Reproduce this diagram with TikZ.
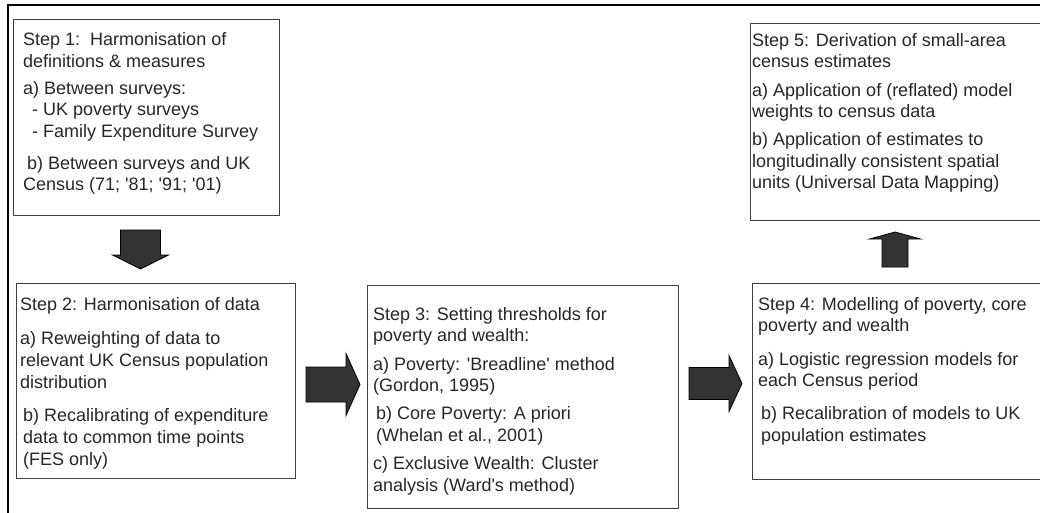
\documentclass[tikz,border=0pt]{standalone}
\usepackage{fontspec}
\setmainfont{Liberation Sans}
\usetikzlibrary{positioning}
\usetikzlibrary{calc}

\tikzset{
  stepbox/.style={draw=black!75, line width=1pt, anchor=north west, inner sep=0pt},
  steptext/.style={anchor=north west, inner sep=0pt, align=left, text=black!85,
    font=\fontsize{18pt}{21.67pt}\selectfont},
  bigarrow/.style={draw=black, line width=0.8pt, fill=black!80, line join=miter},
  frameline/.style={draw=black, line width=2pt}
}
% block arrow: tail, tip, shaft half width, head half width, head length, base name
\newcommand{\blockarrow}[6]{%
  \coordinate (#6) at ($(#2)!#5!(#1)$);
  \draw[bigarrow] ($(#1)!#3!90:(#2)$) -- ($(#6)!#3!90:(#2)$) -- ($(#6)!#4!90:(#2)$) -- (#2)
    -- ($(#6)!#4!-90:(#2)$) -- ($(#6)!#3!-90:(#2)$) -- ($(#1)!#3!-90:(#2)$) -- cycle;
}

\begin{document}
\begin{tikzpicture}[x=1pt,y=-1pt]
\clip (0,0) rectangle (1040,513);
\draw[frameline] (7.5,513) -- (7.5,5) -- (1040,5);

% boxes
\node[stepbox, minimum width=266pt, minimum height=196pt] (s1) at (13,19) {};
\node[stepbox, minimum width=279pt, minimum height=195pt] (s2) at (16,283) {};
\node[stepbox, minimum width=311pt, minimum height=223pt] (s3) at (367,285) {};
\node[stepbox, minimum width=300pt, minimum height=196pt] (s4) at (752,283) {};
\node[stepbox, minimum width=300pt, minimum height=197pt] (s5) at (750,23) {};

% texts
\node[steptext, below right=13.5pt and 10pt of s1.north west] (t1) {Step 1:\ \ Harmonisation of\\
definitions \& measures\\[5pt]
a) Between surveys:\\
\hspace*{9pt}- UK poverty surveys\\
\hspace*{9pt}- Family Expenditure Survey\\[10pt]
\hspace*{4pt}b) Between surveys and UK\\
Census (71; \textquotesingle81; \textquotesingle91; \textquotesingle01)};
\node[steptext, below right=14pt and 4pt of s2.north west] (t2) {Step 2: Harmonisation of data\\[13pt]
a) Reweighting of data to\\
relevant UK Census population\\
distribution\\[12pt]
\hspace*{3pt}b) Recalibrating of expenditure\\
\hspace*{3pt}data to common time points\\
\hspace*{3pt}(FES only)};
\node[steptext, below right=22pt and 6pt of s3.north west] (t3) {Step 3: Setting thresholds for\\
poverty and wealth:\\[6.5pt]
a) Poverty: \textquotesingle Breadline\textquotesingle\ method\\
(Gordon, 1995)\\[6.5pt]
\hspace*{3pt}b) Core Poverty: A priori\\
\hspace*{3pt}(Whelan et al., 2001)\\[6.5pt]
c) Exclusive Wealth: Cluster\\
analysis (Ward\textquotesingle s method)};
\node[steptext, below right=14pt and 6pt of s4.north west] (t4) {Step 4: Modelling of poverty, core\\
poverty and wealth\\[11.5pt]
a) Logistic regression models for\\
each Census period\\[11.5pt]
\hspace*{3pt}b) Recalibration of models to UK\\
\hspace*{3pt}population estimates};
\node[steptext, below right=10pt and 2pt of s5.north west] (t5) {Step 5: Derivation of small-area\\
census estimates\\[6.5pt]
a) Application of (reflated) model\\
weights to census data\\[6pt]
b) Application of estimates to\\
longitudinally consistent spatial\\
units (Universal Data Mapping)};

% arrows between the steps
\coordinate (a1t) at ($(s1.south)+(-6,14)$);
\coordinate (a1h) at ($(a1t)+(0,39)$);
\coordinate (a2t) at ($(s2.east)+(10,3.5)$);
\coordinate (a2h) at ($(a2t)+(54,0)$);
\coordinate (a3t) at ($(s3.east)+(10,-13.5)$);
\coordinate (a3h) at ($(a3t)+(53,0)$);
\coordinate (a4t) at ($(s4.north west)+(143,-16)$);
\coordinate (a4h) at ($(a4t)+(0,-35)$);
\blockarrow{a1t}{a1h}{20pt}{28pt}{14pt}{a1b}
\blockarrow{a2t}{a2h}{17.5pt}{31pt}{14pt}{a2b}
\blockarrow{a3t}{a3h}{16pt}{28pt}{13pt}{a3b}
\blockarrow{a4t}{a4h}{13pt}{25.5pt}{7pt}{a4b}
\end{tikzpicture}
\end{document}
